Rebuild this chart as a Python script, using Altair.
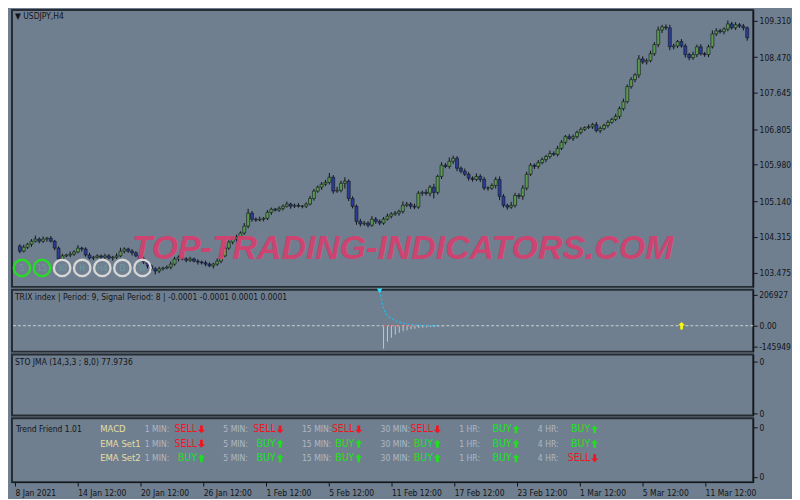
import altair as alt
import pandas as pd

# ------------------------------------------------------------------ data
SYMBOL_TITLE = "\u25bc USDJPY,H4"
WATERMARK = "TOP-TRADING-INDICATORS.COM"

FIRST_OPEN = 104.10
CLOSE = [
    103.98, 104.07, 104.14, 104.21, 104.26, 104.21, 104.26, 104.28, 104.21, 104.05,
    103.80, 103.87, 103.89, 103.91, 103.96, 104.05, 104.03, 103.89, 103.82, 103.84,
    103.87, 103.84, 103.87, 103.82, 103.84, 103.87, 103.98, 104.03, 103.98, 103.94,
    103.87, 103.80, 103.73, 103.64, 103.57, 103.52, 103.57, 103.59, 103.61, 103.68,
    103.80, 103.84, 103.80, 103.77, 103.80, 103.75, 103.73, 103.71, 103.68, 103.64,
    103.68, 103.75, 103.87, 104.05, 104.19, 104.26, 104.31, 104.40, 104.56, 104.86,
    104.72, 104.70, 104.72, 104.74, 104.88, 104.95, 104.93, 104.97, 105.02, 105.07,
    105.02, 105.04, 105.02, 105.02, 105.07, 105.20, 105.37, 105.46, 105.53, 105.57,
    105.69, 105.37, 105.39, 105.55, 105.60, 105.20, 105.02, 104.67, 104.61, 104.63,
    104.58, 104.72, 104.67, 104.63, 104.72, 104.79, 104.84, 104.86, 104.90, 105.04,
    105.07, 105.02, 105.00, 105.32, 105.34, 105.32, 105.46, 105.34, 105.71, 105.97,
    105.94, 106.06, 106.13, 105.90, 105.83, 105.76, 105.67, 105.64, 105.71, 105.64,
    105.44, 105.44, 105.50, 105.64, 105.25, 105.04, 105.00, 105.04, 105.27, 105.25,
    105.44, 105.76, 105.97, 105.94, 106.03, 106.10, 106.17, 106.24, 106.22, 106.36,
    106.50, 106.63, 106.59, 106.63, 106.73, 106.80, 106.84, 106.86, 106.91, 106.77,
    106.82, 106.89, 106.96, 107.03, 107.10, 107.28, 107.44, 107.79, 107.95, 108.06,
    108.43, 108.36, 108.39, 108.55, 108.76, 109.10, 109.17, 109.15, 108.71, 108.73,
    108.83, 108.73, 108.53, 108.46, 108.53, 108.71, 108.55, 108.53, 108.71, 109.01,
    109.08, 109.06, 109.12, 109.24, 109.15, 109.22, 109.19, 109.15, 108.92,
]
# wick lengths beyond the body, in hundredths of a yen
UPPER_WICK = [
    4, 6, 3, 5, 8, 4, 6, 3, 5, 3, 4, 5, 3, 6, 4, 7, 3, 4, 5, 3,
    4, 3, 5, 4, 3, 6, 8, 4, 3, 5, 4, 3, 5, 4, 3, 4, 5, 3, 4, 6,
    5, 4, 3, 4, 5, 3, 4, 3, 5, 4, 3, 6, 4, 5, 4, 6, 5, 4, 7, 10,
    5, 4, 6, 3, 5, 4, 3, 5, 4, 6, 3, 4, 5, 3, 4, 6, 5, 4, 5, 6,
    10, 5, 8, 6, 9, 4, 5, 4, 6, 5, 4, 7, 5, 4, 5, 6, 4, 5, 4, 9,
    5, 4, 6, 5, 4, 7, 5, 8, 4, 7, 5, 9, 6, 5, 4, 6, 5, 4, 7, 5,
    6, 4, 5, 6, 7, 5, 4, 8, 6, 5, 7, 6, 5, 4, 6, 5, 4, 7, 5, 6,
    5, 4, 6, 5, 4, 5, 3, 5, 4, 6, 5, 4, 5, 4, 6, 5, 7, 5, 6, 4,
    9, 6, 5, 7, 6, 8, 5, 6, 7, 5, 4, 6, 5, 4, 7, 5, 6, 4, 5, 8,
    6, 5, 4, 8, 5, 6, 4, 5, 3,
]
LOWER_WICK = [
    5, 3, 4, 6, 3, 5, 4, 6, 3, 5, 7, 4, 3, 5, 4, 3, 6, 4, 3, 5,
    3, 5, 4, 3, 6, 4, 3, 5, 4, 6, 3, 4, 5, 6, 4, 8, 5, 4, 3, 5,
    4, 6, 3, 5, 4, 3, 6, 4, 5, 3, 6, 4, 5, 3, 4, 5, 6, 3, 4, 5,
    6, 4, 3, 5, 4, 6, 3, 4, 5, 3, 6, 4, 3, 5, 4, 3, 5, 4, 6, 4,
    5, 6, 4, 5, 12, 6, 5, 8, 6, 4, 5, 4, 6, 5, 4, 3, 5, 4, 6, 5,
    4, 6, 5, 4, 6, 5, 7, 14, 5, 6, 4, 5, 6, 7, 5, 4, 6, 5, 4, 6,
    5, 6, 4, 7, 9, 5, 6, 4, 5, 6, 8, 5, 4, 6, 5, 4, 6, 5, 4, 5,
    4, 5, 3, 6, 4, 5, 4, 3, 5, 4, 6, 4, 5, 3, 4, 6, 5, 4, 5, 6,
    7, 5, 6, 4, 5, 6, 7, 5, 8, 6, 5, 4, 7, 6, 5, 6, 4, 5, 6, 4,
    5, 4, 6, 5, 4, 5, 4, 6, 7,
]

PRICE_TICKS = [103.475, 104.315, 105.140, 105.980, 106.805, 107.645, 108.470, 109.310]
DATE_TICK_BARS = [0, 16, 32, 48, 64, 80, 96, 112, 128, 144, 160, 176]
DATE_LABELS = ["8 Jan 2021", "14 Jan 12:00", "20 Jan 12:00", "26 Jan 12:00",
               "1 Feb 12:00", "5 Feb 12:00", "11 Feb 12:00", "17 Feb 12:00",
               "23 Feb 12:00", "1 Mar 12:00", "5 Mar 12:00", "11 Mar 12:00"]

TF_CIRCLES = ["5", "15", "30", "H", "H4", "D", "W"]
TF_CIRCLE_STATE = ["on", "on", "off", "off", "off", "off", "off"]

TRIX_HEADER = "TRIX index | Period: 9, Signal Period: 8 |  -0.0001 -0.0001 0.0001 0.0001"
TRIX_LINE_BARS = [93, 94, 95, 96, 97, 98, 99, 100, 101, 102, 103, 104, 105, 106, 107, 108]
TRIX_LINE_VALS = [35, 17, 10, 7.5, 5, 3.5, 2.5, 1.8, 1.2, 0.8, 0.5, 0.3, 0.2, 0.1, 0.05, 0]
TRIX_HIST_BARS = [94, 95, 96, 97, 98, 99, 100, 101, 102, 103, 104, 105, 106, 107, 108, 109]
TRIX_HIST_VALS = [-23, -16, -12, -9, -7, -5.5, -4.5, -3.5, -3, -2.5, -2, -1.7, -1.4, -1.2, -1, -0.8]
TRIX_SIGNAL_BARS = [94, 102]
TRIX_ARROW_BARS = [170]
TRIX_AXIS_VALS = [31, 0, -21]
TRIX_AXIS_TEXT = ["206927283", "0.00", "-14594935"]

STO_HEADER = "STO JMA (14,3,3 ; 8,0) 77.9736"
STO_AXIS_VALS = [89, 3.3]

TREND_HEADER = "Trend Friend 1.01"
TREND_AXIS_VALS = [86.4, 8.3]
ROWS = ["MACD", "EMA Set1", "EMA Set2"]
TIMEFRAMES = ["1 MIN:", "5 MIN:", "15 MIN:", "30 MIN:", "1 HR:", "4 HR:"]
SIGNALS = [
    ["SELL", "SELL", "SELL", "SELL", "BUY", "BUY"],
    ["SELL", "BUY", "BUY", "BUY", "BUY", "BUY"],
    ["BUY", "BUY", "BUY", "BUY", "BUY", "SELL"],
]

# ------------------------------------------------------------------ styles
BG = "#707f8f"
DARK = "#111418"
FONT = "DejaVu Sans Condensed, DejaVu Sans, sans-serif"
UP_BODY = "#5a9a4e"
DOWN_BODY = "#2b3d98"
BUY_C = "#1fe01f"
SELL_C = "#f5141e"
TF_GREY = "#aeb7c4"
KHAKI = "#e4dea4"
UP_PATH = "M0,-1L0.9,-0.1L0.35,-0.1L0.35,1L-0.35,1L-0.35,-0.1L-0.9,-0.1Z"
DOWN_PATH = "M0,1L0.9,0.1L0.35,0.1L0.35,-1L-0.35,-1L-0.35,0.1L-0.9,0.1Z"

W = 744
H_MAIN, H_TRIX, H_STO, H_TREND = 278, 62, 61, 64


def xscale():
    return alt.Scale(domain=[-0.75, 188.25], nice=False, zero=False)


def right_axis(values, fmt=None, expr=None):
    kw = dict(orient="right", values=values, title=None, grid=False, tickSize=4,
              labelPadding=2, labelFont=FONT, labelFontSize=8.5, labelColor=DARK,
              tickColor=DARK, domainColor=DARK)
    if fmt:
        kw["format"] = fmt
    if expr:
        kw["labelExpr"] = expr
    return alt.Axis(**kw)


# ------------------------------------------------------------------ candles
opens = [FIRST_OPEN] + CLOSE[:-1]
cdf = pd.DataFrame({"i": list(range(len(CLOSE))), "open": opens, "close": CLOSE})
cdf["high"] = cdf[["open", "close"]].max(axis=1) + pd.Series(UPPER_WICK) / 100
cdf["low"] = cdf[["open", "close"]].min(axis=1) - pd.Series(LOWER_WICK) / 100
cdf["dir"] = ["up" if c >= o else "down" for o, c in zip(opens, CLOSE)]

main_y = alt.Scale(domain=[103.153, 109.564], nice=False, zero=False)
main_axis = right_axis(PRICE_TICKS, fmt=".3f")

wick = alt.Chart(cdf).mark_rule(color=DARK, strokeWidth=1).encode(
    x=alt.X("i:Q", scale=xscale(), axis=None),
    y=alt.Y("low:Q", scale=main_y, axis=main_axis),
    y2="high:Q",
)
body = alt.Chart(cdf).mark_bar(size=3, stroke=DARK, strokeWidth=0.6).encode(
    x=alt.X("i:Q", scale=xscale(), axis=None),
    y=alt.Y("open:Q", scale=main_y, axis=main_axis),
    y2="close:Q",
    color=alt.Color("dir:N", scale=alt.Scale(domain=["up", "down"], range=[UP_BODY, DOWN_BODY]), legend=None),
)
candles = alt.layer(wick, body)

circ_df = pd.DataFrame({"slot": list(range(len(TF_CIRCLES))), "label": TF_CIRCLES, "state": TF_CIRCLE_STATE})
slot_scale = alt.Scale(domain=[0, 6], range=[10, 131])
circles = alt.Chart(circ_df).mark_point(shape="circle", size=272, strokeWidth=2.3, filled=False, opacity=1).encode(
    x=alt.X("slot:Q", scale=slot_scale, axis=None),
    y=alt.value(259),
    color=alt.Color("state:N", scale=alt.Scale(domain=["on", "off"], range=["#27dc27", "#d6d6d6"]), legend=None),
)
circle_txt = alt.Chart(circ_df).mark_text(font=FONT, fontSize=8.5, color="#6a9aa0", baseline="middle").encode(
    x=alt.X("slot:Q", scale=slot_scale, axis=None),
    y=alt.value(259),
    text="label:N",
)
title_txt = alt.Chart(pd.DataFrame({"t": [SYMBOL_TITLE]})).mark_text(
    font=FONT, fontSize=8.5, color=DARK, align="left", baseline="middle").encode(
    x=alt.value(3), y=alt.value(6), text="t:N")
wm_txt = alt.Chart(pd.DataFrame({"t": [WATERMARK]})).mark_text(
    font="Liberation Sans", fontSize=34, fontStyle="italic", fontWeight="bold",
    color="#d2416f", opacity=0.95, align="center", baseline="middle").encode(
    x=alt.value(392), y=alt.value(240), text="t:N")

main = alt.layer(candles, wm_txt, circles, circle_txt, title_txt).resolve_scale(
    x="independent", color="independent").properties(width=W, height=H_MAIN)

# ------------------------------------------------------------------ TRIX
trix_y = alt.Scale(domain=[-26, 36], nice=False, zero=False)
trix_axis = right_axis(TRIX_AXIS_VALS, expr="datum.value == 0 ? '0.00' : ''")

zero_line = alt.Chart(pd.DataFrame({"v": [0]})).mark_rule(
    color="#c9ced4", strokeWidth=1, strokeDash=[3, 2]).encode(
    y=alt.Y("v:Q", scale=trix_y, axis=trix_axis))
hist = alt.Chart(pd.DataFrame({"i": TRIX_HIST_BARS, "v": TRIX_HIST_VALS, "z": 0})).mark_rule(
    color="#c3c7cc", strokeWidth=1).encode(
    x=alt.X("i:Q", scale=xscale(), axis=None),
    y=alt.Y("z:Q", scale=trix_y, axis=trix_axis), y2="v:Q")
sig = alt.Chart(pd.DataFrame({"i": TRIX_SIGNAL_BARS, "v": [0, 0]})).mark_line(
    color="#ff2a2a", strokeWidth=1.2, strokeDash=[1, 2]).encode(
    x=alt.X("i:Q", scale=xscale(), axis=None),
    y=alt.Y("v:Q", scale=trix_y, axis=trix_axis))
tline = alt.Chart(pd.DataFrame({"i": TRIX_LINE_BARS, "v": TRIX_LINE_VALS})).mark_line(
    color="#27b6e6", strokeWidth=1.4, strokeDash=[2, 2]).encode(
    x=alt.X("i:Q", scale=xscale(), axis=None),
    y=alt.Y("v:Q", scale=trix_y, axis=trix_axis))
tstart = alt.Chart(pd.DataFrame({"i": TRIX_LINE_BARS[:1], "v": TRIX_LINE_VALS[:1]})).mark_point(
    shape="triangle-down", filled=True, size=30, color="#2ee0ff", opacity=1).encode(
    x=alt.X("i:Q", scale=xscale(), axis=None),
    y=alt.Y("v:Q", scale=trix_y, axis=trix_axis))
tarrow = alt.Chart(pd.DataFrame({"i": TRIX_ARROW_BARS, "v": [0]})).mark_point(
    shape=UP_PATH, filled=True, size=55, color="#ffff00", opacity=1).encode(
    x=alt.X("i:Q", scale=xscale(), axis=None),
    y=alt.Y("v:Q", scale=trix_y, axis=trix_axis))
tlabels = alt.Chart(pd.DataFrame({"v": [TRIX_AXIS_VALS[0], TRIX_AXIS_VALS[2]],
                                  "t": [TRIX_AXIS_TEXT[0], TRIX_AXIS_TEXT[2]]})).mark_text(
    font=FONT, fontSize=8.5, color=DARK, align="left", baseline="middle", limit=32,
    ellipsis="\u200b").encode(
    x=alt.value(W + 6), y=alt.Y("v:Q", scale=trix_y, axis=trix_axis), text="t:N")
theader = alt.Chart(pd.DataFrame({"t": [TRIX_HEADER]})).mark_text(
    font=FONT, fontSize=8.5, color=DARK, align="left", baseline="middle").encode(
    x=alt.value(3), y=alt.value(7), text="t:N")

trix = alt.layer(zero_line, hist, sig, tline, tstart, tarrow, tlabels, theader).properties(
    width=W, height=H_TRIX)

# ------------------------------------------------------------------ STO
sto_y = alt.Scale(domain=[0, 100], nice=False, zero=False)
sto_base = alt.Chart(pd.DataFrame({"i": [0], "v": [50]})).mark_point(opacity=0).encode(
    x=alt.X("i:Q", scale=xscale(), axis=None),
    y=alt.Y("v:Q", scale=sto_y, axis=right_axis(STO_AXIS_VALS, expr="'0'")))
sto_header = alt.Chart(pd.DataFrame({"t": [STO_HEADER]})).mark_text(
    font=FONT, fontSize=8.5, color=DARK, align="left", baseline="middle").encode(
    x=alt.value(3), y=alt.value(7), text="t:N")
sto = alt.layer(sto_base, sto_header).properties(width=W, height=H_STO)

# ------------------------------------------------------------------ Trend Friend
x_axis = alt.Axis(values=DATE_TICK_BARS, title=None, grid=False, tickSize=4, labelPadding=2,
                  labelAlign="left", labelFlush=False, labelFont=FONT, labelFontSize=8.5,
                  labelColor=DARK, tickColor=DARK, domainColor=DARK,
                  labelExpr="%s[indexof(%s, datum.value)]" % (
                      "[" + ",".join("'%s'" % s for s in DATE_LABELS) + "]",
                      "[" + ",".join(str(b) for b in DATE_TICK_BARS) + "]"))
trend_base = alt.Chart(pd.DataFrame({"i": DATE_TICK_BARS, "v": [50] * len(DATE_TICK_BARS)})).mark_point(
    opacity=0).encode(
    x=alt.X("i:Q", scale=xscale(), axis=x_axis),
    y=alt.Y("v:Q", scale=alt.Scale(domain=[0, 100], nice=False, zero=False),
            axis=right_axis(TREND_AXIS_VALS, expr="'0'")))

cells = []
for r, name in enumerate(ROWS):
    for c, tf in enumerate(TIMEFRAMES):
        cells.append({"row": r, "col": c, "tf": tf, "sig": SIGNALS[r][c]})
cell_df = pd.DataFrame(cells)
row_df = pd.DataFrame({"row": list(range(len(ROWS))), "name": ROWS})

col_scale = alt.Scale(domain=[0, 5], range=[133.2, 527.9])
row_scale = alt.Scale(domain=[0, 2], range=[11, 40])
sig_color = alt.Scale(domain=["BUY", "SELL"], range=[BUY_C, SELL_C])

tf_txt = alt.Chart(cell_df).mark_text(font=FONT, fontSize=8.6, color=TF_GREY, align="left",
                                      baseline="middle").encode(
    x=alt.X("col:Q", scale=col_scale, axis=None),
    y=alt.Y("row:Q", scale=row_scale, axis=None), text="tf:N")
sig_txt = alt.Chart(cell_df).mark_text(font=FONT, fontSize=10.5, align="right", baseline="middle",
                                       dx=52.5).encode(
    x=alt.X("col:Q", scale=col_scale, axis=None),
    y=alt.Y("row:Q", scale=row_scale, axis=None), text="sig:N",
    color=alt.Color("sig:N", scale=sig_color, legend=None))
sig_arrow = alt.Chart(cell_df).mark_point(filled=True, size=62, opacity=1, xOffset=57).encode(
    x=alt.X("col:Q", scale=col_scale, axis=None),
    y=alt.Y("row:Q", scale=row_scale, axis=None),
    color=alt.Color("sig:N", scale=sig_color, legend=None),
    shape=alt.Shape("sig:N", scale=alt.Scale(domain=["BUY", "SELL"], range=[UP_PATH, DOWN_PATH]), legend=None))
row_txt = alt.Chart(row_df).mark_text(font=FONT, fontSize=9.5, color=KHAKI, align="left",
                                      baseline="middle").encode(
    x=alt.value(88.5), y=alt.Y("row:Q", scale=row_scale, axis=None), text="name:N")
trend_header = alt.Chart(pd.DataFrame({"t": [TREND_HEADER]})).mark_text(
    font=FONT, fontSize=8.5, color=DARK, align="left", baseline="middle").encode(
    x=alt.value(4), y=alt.value(11), text="t:N")

trend = alt.layer(trend_base, tf_txt, sig_txt, sig_arrow, row_txt, trend_header).resolve_scale(
    x="independent", y="independent", color="independent", shape="independent").properties(
    width=W, height=H_TREND)

# ------------------------------------------------------------------ assemble
chart = alt.vconcat(main, trix, sto, trend, spacing=3, bounds="flush").properties(
    background=BG,
    padding=0,
).configure_view(stroke="#262c33", strokeWidth=2).configure_axis(grid=False)

chart.save("out.html", embed_options={"renderer": "svg", "actions": False})
